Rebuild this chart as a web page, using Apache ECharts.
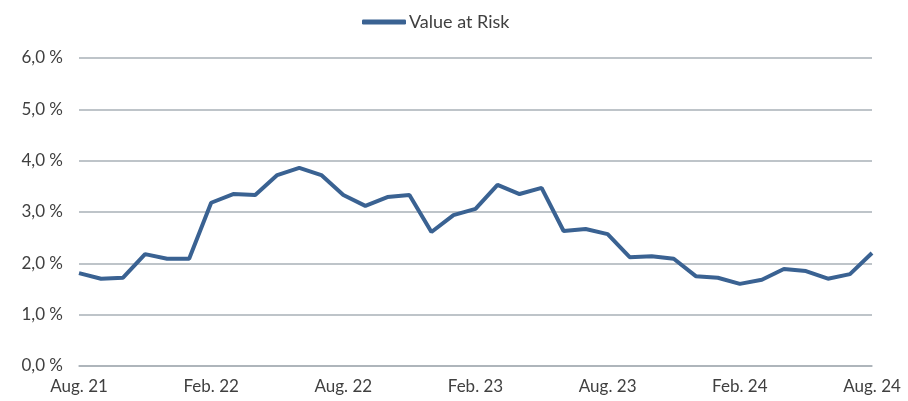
<!DOCTYPE html>
<html>
<head>
<meta charset="utf-8">
<script src="https://cdn.jsdelivr.net/npm/echarts@6/dist/echarts.min.js"></script>
<style>
  html, body { margin: 0; padding: 0; background: #fff; }
  #chart { width: 908px; height: 401px; }
</style>
</head>
<body>
<div id="chart"></div>
<script>
'use strict';
// monthly points, Aug. 21 .. Aug. 24
var monthNames = ['Aug.', 'Sep.', 'Okt.', 'Nov.', 'Dez.', 'Jan.', 'Feb.', 'Mär.', 'Apr.', 'Mai', 'Jun.', 'Jul.'];
var startYear = 21;
var varValues = [
	1.81, 1.70, 1.72, 2.18, 2.09, 2.09, 3.18, 3.35, 3.33, 3.72,
	3.86, 3.72, 3.33, 3.12, 3.29, 3.33, 2.61, 2.94, 3.06, 3.53,
	3.35, 3.47, 2.63, 2.67, 2.57, 2.12, 2.14, 2.09, 1.75, 1.72,
	1.60, 1.68, 1.89, 1.85, 1.70, 1.79, 2.20
];
var yTicks = [0, 1, 2, 3, 4, 5, 6];

var categories = [];
for (var i = 0; i < varValues.length; i++) {
	var yr = startYear + Math.floor((i + 7) / 12); // Aug is month index 7 of year
	categories.push(monthNames[i % 12] + ' ' + yr);
}

var font = 'Lato, "Noto Sans", sans-serif';
var textColor = '#404040';
var gridColor = '#a9b0b7';

var myChart = echarts.init(document.getElementById('chart'));
myChart.setOption({
	animation: false,
	textStyle: { fontFamily: font },
	legend: {
		top: 8,
		left: 357,
		icon: 'roundRect',
		itemWidth: 44,
		itemHeight: 5,
		itemGap: 4,
		textStyle: { fontSize: 18, color: textColor, fontFamily: font, padding: [0, 0, 0, -2] },
		data: ['Value at Risk']
	},
	grid: { left: 79, right: 36, top: 58, bottom: 35, containLabel: false },
	xAxis: {
		type: 'category',
		boundaryGap: false,
		data: categories,
		axisLine: { show: true, lineStyle: { color: gridColor, width: 1.5 } },
		axisTick: { show: false },
		axisLabel: {
			interval: 5,
			margin: 12,
			fontSize: 17,
			color: textColor,
			fontFamily: font,
			hideOverlap: false
		}
	},
	yAxis: {
		type: 'value',
		min: yTicks[0],
		max: yTicks[yTicks.length - 1],
		interval: 1,
		axisLine: { show: false },
		axisTick: { show: false },
		splitLine: { lineStyle: { color: gridColor, width: 1.5 } },
		axisLabel: {
			margin: 16,
			fontSize: 17,
			color: textColor,
			fontFamily: font,
			formatter: function(v) { return v.toFixed(1).replace('.', ',') + ' %'; }
		}
	},
	series: [{
		name: 'Value at Risk',
		type: 'line',
		data: varValues,
		symbol: 'none',
		lineStyle: { color: '#3a6292', width: 4 },
		itemStyle: { color: '#3a6292' }
	}]
});
</script>
</body>
</html>
